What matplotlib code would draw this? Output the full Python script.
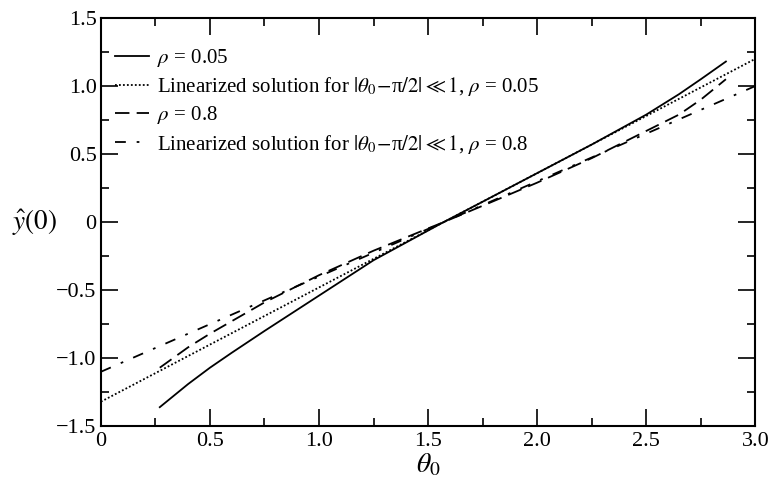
import numpy as np
import matplotlib
matplotlib.use("Agg")
import matplotlib.pyplot as plt
from matplotlib.ticker import MultipleLocator, FixedFormatter, FixedLocator

plt.rcParams['font.family'] = ['Liberation Serif', 'DejaVu Serif']
plt.rcParams['mathtext.fontset'] = 'stix'

# ---- data ----
theta_s = [0.27, 0.40, 0.50, 0.60, 0.75, 1.00, 1.25, 1.571, 1.75, 2.00, 2.25, 2.50, 2.65, 2.75, 2.865]
y_rho005 = [-1.36, -1.19, -1.07, -0.96, -0.80, -0.54, -0.28, 0.0, 0.15, 0.36, 0.57, 0.79, 0.94, 1.05, 1.18]

theta_lin = [0.0, 3.0]
y_lin005 = [-1.32, 1.20]

theta_d = [0.27, 0.40, 0.50, 0.75, 1.00, 1.25, 1.571, 1.75, 2.00, 2.25, 2.50, 2.65, 2.75, 2.865]
y_rho08 = [-1.07, -0.92, -0.82, -0.59, -0.39, -0.21, 0.0, 0.12, 0.29, 0.47, 0.67, 0.79, 0.90, 1.05]

y_lin08 = [-1.10, 1.00]

xticks = [0, 0.5, 1.0, 1.5, 2.0, 2.5, 3.0]
xticklabels = ['0', '0.5', '1.0', '1.5', '2.0', '2.5', '3.0']
yticks = [-1.5, -1.0, -0.5, 0, 0.5, 1.0, 1.5]
yticklabels = ['\u22121.5', '\u22121.0', '\u22120.5', '0', '0.5', '1.0', '1.5']

labels = [r'$\rho$ = 0.05',
          r'Linearized solution for $|\theta_0\!-\!$π$/2|\ll 1$, $\rho$ = 0.05',
          r'$\rho$ = 0.8',
          r'Linearized solution for $|\theta_0\!-\!$π$/2|\ll 1$, $\rho$ = 0.8']

fig = plt.figure(figsize=(7.7, 4.86), dpi=100)
ax = fig.add_axes([0.131, 0.123, 0.850, 0.840])

lw = 1.3
ax.plot(theta_s, y_rho005, color='black', lw=lw, linestyle='-', label=labels[0])
ax.plot(theta_lin, y_lin005, color='black', lw=lw, linestyle=(0, (1, 1.2)), label=labels[1])
ax.plot(theta_d, y_rho08, color='black', lw=lw, linestyle=(0, (8, 4)), label=labels[2])
ax.plot(theta_lin, y_lin08, color='black', lw=lw, linestyle=(0, (6, 6, 1.5, 6)), label=labels[3])

ax.set_xlim(0, 3.0)
ax.set_ylim(-1.5, 1.5)
ax.xaxis.set_major_locator(FixedLocator(xticks))
ax.xaxis.set_major_formatter(FixedFormatter(xticklabels))
ax.yaxis.set_major_locator(FixedLocator(yticks))
ax.yaxis.set_major_formatter(FixedFormatter(yticklabels))
ax.xaxis.set_minor_locator(MultipleLocator(0.25))
ax.yaxis.set_minor_locator(MultipleLocator(0.25))
ax.tick_params(which='both', direction='in', top=True, right=True, labelsize=16, width=1.2, color='black')
ax.tick_params(which='major', length=12)
ax.tick_params(axis='x', which='major', pad=4)
ax.tick_params(axis='y', which='major', pad=3)
ax.tick_params(which='minor', length=6)
for s in ax.spines.values():
    s.set_linewidth(1.5)

ax.set_xlabel(r'$\theta_0$', fontsize=20, labelpad=1)
ax.set_ylabel(r'$\hat{y}(0)$', fontsize=19.5, rotation=0, labelpad=16, va='center')

leg = ax.legend(loc='upper left', frameon=False, fontsize=15, handlelength=1.6,
                handletextpad=0.4, labelspacing=0.3, borderaxespad=0.3,
                bbox_to_anchor=(0.0, 0.965))

fig.savefig('out.png', dpi=100)
